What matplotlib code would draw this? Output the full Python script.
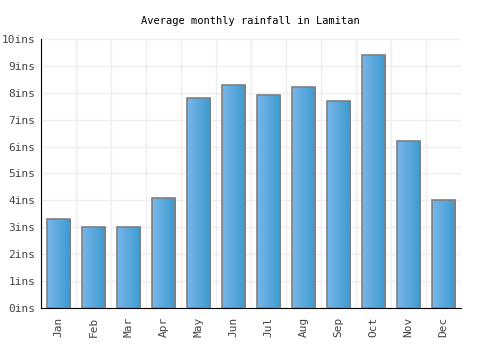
import numpy as np
import matplotlib
matplotlib.use('Agg')
import matplotlib.pyplot as plt
from matplotlib.colors import LinearSegmentedColormap

months = ['Jan','Feb','Mar','Apr','May','Jun','Jul','Aug','Sep','Oct','Nov','Dec']
rain = [3.3, 3.0, 3.0, 4.1, 7.8, 8.3, 7.9, 8.2, 7.7, 9.4, 6.2, 4.0]
yticks = list(range(0, 11))
ylabels = ['%dins' % v for v in yticks]

plt.rcParams['font.family'] = 'DejaVu Sans Mono'

fig = plt.figure(figsize=(5, 3.5), dpi=100)
ax = fig.add_axes([0.082, 0.12, 0.84, 0.769])

x = np.arange(len(months))
bars = ax.bar(x, rain, width=0.68, color='none', edgecolor='#808080', linewidth=1.2, zorder=3)

cmap = LinearSegmentedColormap.from_list('g', ['#78b6ea', '#3c9acf'])
grad = np.linspace(0, 1, 64).reshape(1, -1)
for b in bars:
    x0, w, h = b.get_x(), b.get_width(), b.get_height()
    im = ax.imshow(grad, cmap=cmap, aspect='auto', extent=[x0, x0 + w, 0, h], zorder=2)
    im.set_clip_path(b)

ax.set_xlim(-0.5, 11.5)
ax.set_ylim(0, 10)
ax.set_xticks(x)
ax.set_xticklabels(months, rotation=90, fontsize=8, color='#444444')
ax.set_yticks(yticks)
ax.set_yticklabels(ylabels, fontsize=8, color='#444444')
ax.set_xticks(np.arange(-0.5, 12, 1), minor=True)
ax.grid(which='minor', axis='x', color='#eeeeee', linewidth=1, zorder=0)
ax.grid(which='major', axis='y', color='#eeeeee', linewidth=1, zorder=0)
ax.tick_params(which='both', length=0)
ax.tick_params(axis='x', pad=6)
ax.tick_params(axis='y', pad=4)
for s in ['top', 'right']:
    ax.spines[s].set_visible(False)
ax.spines['left'].set_color('black')
ax.spines['bottom'].set_color('black')
ax.set_axisbelow(True)

fig.suptitle('Average monthly rainfall in Lamitan', y=0.955, fontsize=7.5)

fig.savefig('out.png', dpi=100)
